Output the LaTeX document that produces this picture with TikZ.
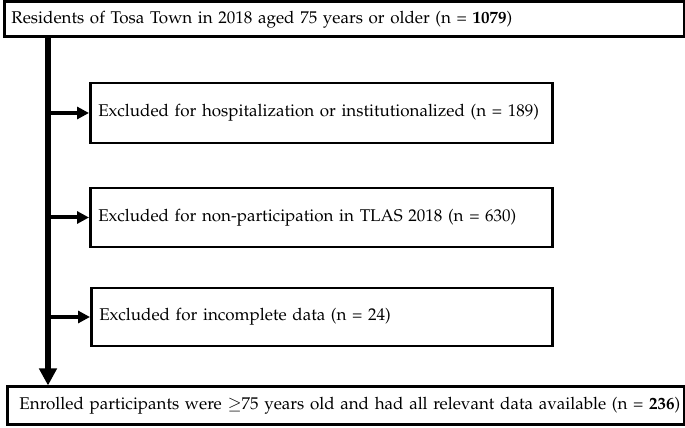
\documentclass[tikz,border=0pt]{standalone}
\usepackage[T1]{fontenc}
\usepackage{mathpazo}
\usetikzlibrary{arrows.meta}
\begin{document}
\begin{tikzpicture}[x=1pt,y=1pt,
  box/.style={draw=black, rectangle, anchor=west, align=left, font=\fontsize{17}{20}\selectfont},
  spine/.style={line width=5.5pt, -{Triangle[length=17pt,width=17pt]}},
  branch/.style={line width=4pt, -{Triangle[length=12pt,width=12pt]}, shorten <=-2pt}]
\useasboundingbox (0,0) rectangle (685,428);
\node[box, line width=3pt, minimum width=680pt, minimum height=35pt, inner xsep=7pt, text width=666pt] (top) at (3,408.5)
  {\mbox{Residents of Tosa Town in 2018 aged 75 years or older (n = \textbf{1079})}};
\node[box, line width=2.5pt, minimum width=462pt, minimum height=60pt, inner xsep=8pt, text width=446pt] (b1) at (89,315)
  {\mbox{Excluded for hospitalization or institutionalized (n = 189)}};
\node[box, line width=2.5pt, minimum width=462pt, minimum height=59pt, inner xsep=8pt, text width=446pt] (b2) at (89,210.5)
  {\mbox{Excluded for non-participation in TLAS 2018 (n = 630)}};
\node[box, line width=2.5pt, minimum width=461pt, minimum height=58pt, inner xsep=8pt, text width=445pt] (b3) at (90,111)
  {\mbox{Excluded for incomplete data (n = 24)}};
\node[box, line width=3pt, minimum width=677pt, minimum height=38pt, inner xsep=12pt, text width=653pt] (bot) at (6,22)
  {\mbox{Enrolled participants were $\geq$75 years old and had all relevant data available (n = \textbf{236})}};
\coordinate (s) at (48,0);
\draw[spine] (top.south -| s) -- (bot.north -| s);
\draw[branch] (b1.west -| s) -- (b1.west);
\draw[branch] (b2.west -| s) -- (b2.west);
\draw[branch] (b3.west -| s) -- (b3.west);
\end{tikzpicture}
\end{document}
